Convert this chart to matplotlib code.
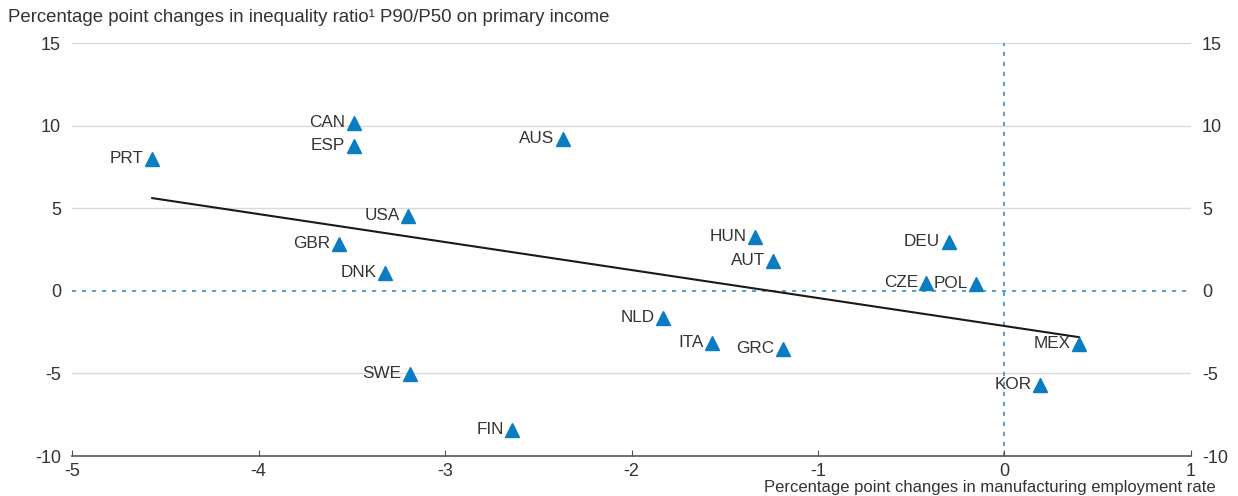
import numpy as np
import matplotlib.pyplot as plt

plt.rcParams['font.family'] = ['Liberation Sans', 'DejaVu Sans']

countries = ["PRT", "CAN", "ESP", "AUS", "USA", "GBR", "DNK", "HUN", "AUT", "DEU",
             "CZE", "POL", "NLD", "ITA", "GRC", "MEX", "SWE", "KOR", "FIN"]
manuf = [-4.57, -3.49, -3.49, -2.37, -3.20, -3.57, -3.32, -1.34, -1.24, -0.30,
         -0.42, -0.15, -1.83, -1.57, -1.19, 0.40, -3.19, 0.19, -2.64]
ineq = [7.98, 10.16, 8.77, 9.19, 4.53, 2.83, 1.08, 3.26, 1.80, 2.95,
        0.47, 0.41, -1.65, -3.16, -3.52, -3.22, -5.04, -5.70, -8.43]

xticks = [-5, -4, -3, -2, -1, 0, 1]
yticks = [-10, -5, 0, 5, 10, 15]

blue = "#0a7cc1"
txt = "#333333"

fig = plt.figure(figsize=(12.38, 4.96), dpi=100)
ax = fig.add_axes([0.0582, 0.0806, 0.9038, 0.8327])

ax.set_xlim(-5, 1)
ax.set_ylim(-10, 15)

# light horizontal grid
for y in yticks[1:]:
    if y != 0:
        ax.axhline(y, color="#d9d9d9", lw=1, zorder=0)

# zero reference lines
ax.axhline(0, color="#3a8fd0", lw=1.2, ls=(0, (2.5, 3.5)), zorder=1)
ax.axvline(0, color="#3a8fd0", lw=1.2, ls=(0, (2.5, 3.5)), zorder=1)

# linear trend
x = np.array(manuf)
y = np.array(ineq)
k, b = np.polyfit(x, y, 1)
xs = np.array([x.min(), x.max()])
ax.plot(xs, k * xs + b, color="#1a1a1a", lw=1.5, zorder=2)

ax.plot(x, y, ls="none", marker="^", ms=9.5, color=blue, mec=blue, zorder=3)
for c, xi, yi in zip(countries, manuf, ineq):
    ax.annotate(c, (xi, yi), xytext=(-6, 0.5), textcoords="offset points",
                ha="right", va="center", fontsize=12.3, color=txt)

for s in ["top", "left", "right"]:
    ax.spines[s].set_visible(False)
ax.spines["bottom"].set_color("#555555")
ax.spines["bottom"].set_linewidth(1.2)

ax.set_xticks(xticks)
ax.set_xticklabels([str(t) for t in xticks])
ax.set_yticks(yticks)
ax.set_yticklabels([str(t) for t in yticks])
ax.tick_params(axis="x", direction="in", length=4, color="#555555",
               labelsize=13, labelcolor=txt, pad=5)
ax.tick_params(axis="y", length=0, labelsize=13, labelcolor=txt, pad=8,
               labelright=True)

fig.text(0.0065, 0.965, "Percentage point changes in inequality ratio\u00b9 P90/P50 on primary income",
         ha="left", va="center", fontsize=13.4, color=txt)
fig.text(0.982, 0.018, "Percentage point changes in manufacturing employment rate",
         ha="right", va="center", fontsize=12, color=txt)

fig.savefig("out.png", dpi=100)
